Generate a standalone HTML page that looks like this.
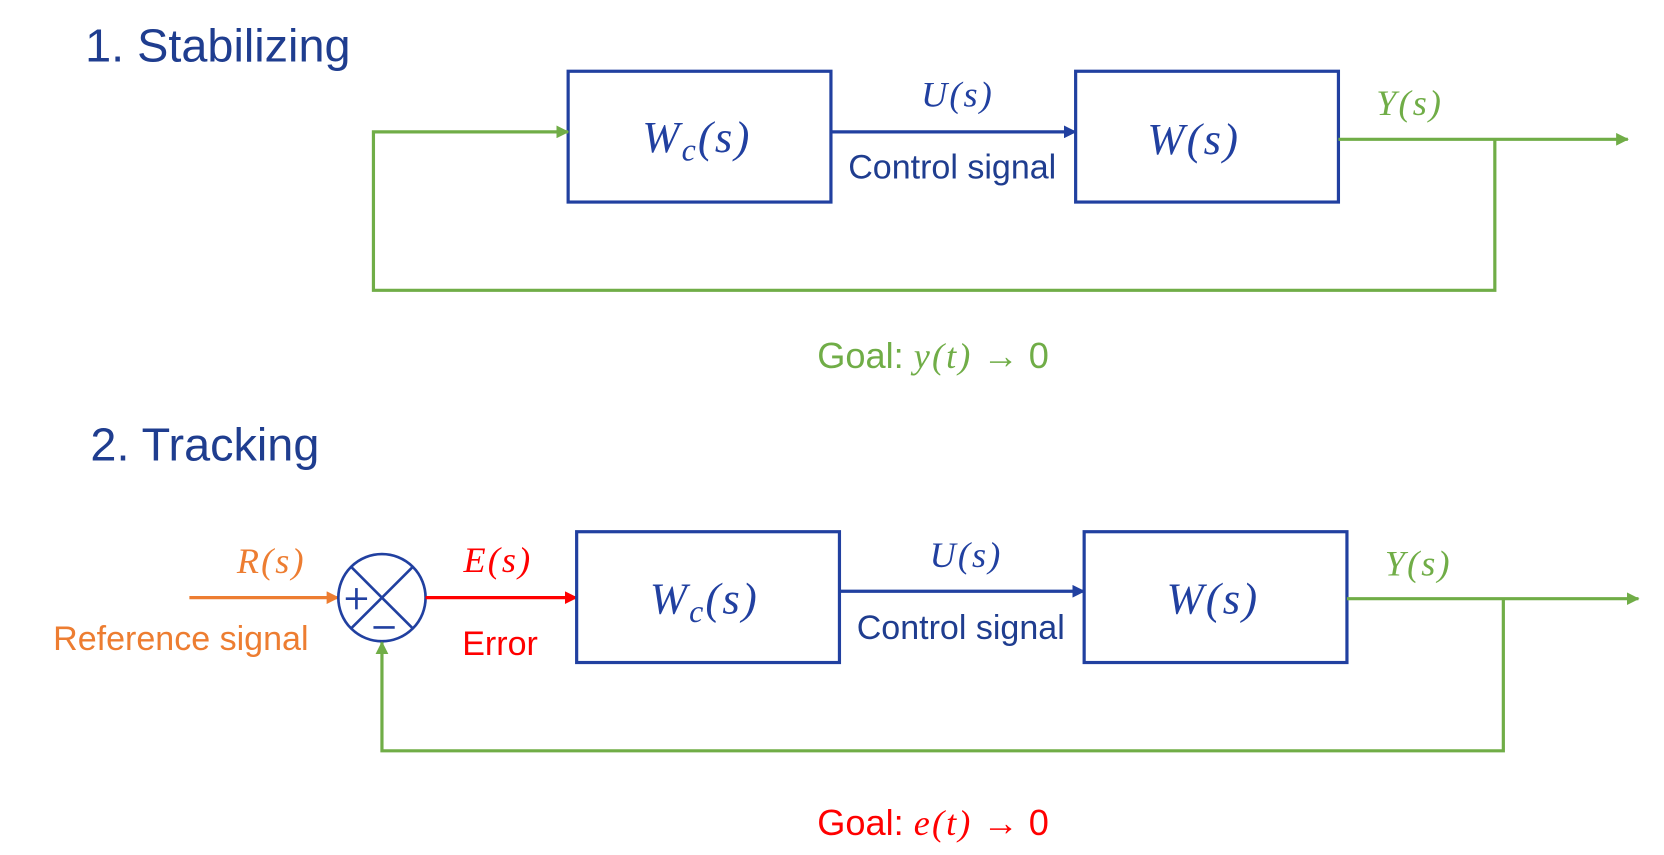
<!DOCTYPE html>
<html><head><meta charset="utf-8"><style>
html,body{margin:0;padding:0;background:#fff;}
svg{display:block;}
.t{font-family:"Liberation Sans",sans-serif;}
.m{font-family:"Liberation Serif",serif;font-style:italic;letter-spacing:2px;}
</style></head><body>
<svg width="1664" height="855" viewBox="0 0 1564 804" preserveAspectRatio="none">
<defs>
<marker id="ag" markerWidth="12" markerHeight="12" refX="11" refY="6" orient="auto" markerUnits="userSpaceOnUse"><path d="M0,0 L12,6 L0,12 z" fill="#70ad47"/></marker>
<marker id="ab" markerWidth="12" markerHeight="12" refX="11" refY="6" orient="auto" markerUnits="userSpaceOnUse"><path d="M0,0 L12,6 L0,12 z" fill="#2140a0"/></marker>
<marker id="ar" markerWidth="12" markerHeight="12" refX="11" refY="6" orient="auto" markerUnits="userSpaceOnUse"><path d="M0,0 L12,6 L0,12 z" fill="#ff0000"/></marker>
<marker id="ao" markerWidth="12" markerHeight="12" refX="11" refY="6" orient="auto" markerUnits="userSpaceOnUse"><path d="M0,0 L12,6 L0,12 z" fill="#ed7d31"/></marker>
</defs>
<g>
<text class="t" x="80" y="58" font-size="44" fill="#1f3d8f">1. Stabilizing</text>
<rect x="534" y="67" width="247" height="123" fill="none" stroke="#2140a0" stroke-width="3"/>
<rect x="1011" y="67" width="247" height="123" fill="none" stroke="#2140a0" stroke-width="3"/>
<text class="m" x="655" y="143" font-size="42" fill="#2140a0" text-anchor="middle">W<tspan font-size="30" dy="8">c</tspan><tspan dy="-8">(s)</tspan></text>
<text class="m" x="1122" y="145" font-size="42" fill="#2140a0" text-anchor="middle">W(s)</text>
<line x1="781" y1="124" x2="1011" y2="124" stroke="#2140a0" stroke-width="3" marker-end="url(#ab)"/>
<text class="m" x="900" y="100" font-size="34" fill="#2140a0" text-anchor="middle">U(s)</text>
<text class="t" x="895" y="168" font-size="32" fill="#1f3d8f" text-anchor="middle">Control signal</text>
<line x1="1258" y1="131" x2="1530" y2="131" stroke="#70ad47" stroke-width="3" marker-end="url(#ag)"/>
<text class="m" x="1325" y="108" font-size="34" fill="#70ad47" text-anchor="middle">Y(s)</text>
<polyline points="1405,131 1405,273 351,273 351,124 534,124" fill="none" stroke="#70ad47" stroke-width="3" marker-end="url(#ag)"/>
<text class="t" x="877" y="346" font-size="34" fill="#70ad47" text-anchor="middle">Goal: <tspan class="m">y(t)</tspan> → 0</text>
</g>
<g>
<text class="t" x="85" y="433" font-size="44" fill="#1f3d8f">2. Tracking</text>
<line x1="178" y1="562" x2="318" y2="562" stroke="#ed7d31" stroke-width="3" marker-end="url(#ao)"/>
<text class="m" x="255" y="539" font-size="34" fill="#ed7d31" text-anchor="middle">R(s)</text>
<text class="t" x="170" y="611" font-size="32" fill="#ed7d31" text-anchor="middle">Reference signal</text>
<g>
<circle cx="359" cy="562" r="41" fill="none" stroke="#2140a0" stroke-width="2.5"/>
<line x1="330" y1="533" x2="388" y2="591" stroke="#2140a0" stroke-width="2.5"/>
<line x1="388" y1="533" x2="330" y2="591" stroke="#2140a0" stroke-width="2.5"/>
<line x1="325" y1="563" x2="345" y2="563" stroke="#2140a0" stroke-width="2.5"/>
<line x1="335" y1="553" x2="335" y2="573" stroke="#2140a0" stroke-width="2.5"/>
<line x1="351" y1="590" x2="371" y2="590" stroke="#2140a0" stroke-width="2.5"/>
</g>
<line x1="400" y1="562" x2="542" y2="562" stroke="#ff0000" stroke-width="3" marker-end="url(#ar)"/>
<text class="m" x="468" y="538" font-size="34" fill="#ff0000" text-anchor="middle">E(s)</text>
<text class="t" x="470" y="616" font-size="32" fill="#ff0000" text-anchor="middle">Error</text>
<rect x="542" y="500" width="247" height="123" fill="none" stroke="#2140a0" stroke-width="3"/>
<rect x="1019" y="500" width="247" height="123" fill="none" stroke="#2140a0" stroke-width="3"/>
<text class="m" x="662" y="577" font-size="42" fill="#2140a0" text-anchor="middle">W<tspan font-size="30" dy="8">c</tspan><tspan dy="-8">(s)</tspan></text>
<text class="m" x="1140" y="577" font-size="42" fill="#2140a0" text-anchor="middle">W(s)</text>
<line x1="789" y1="556" x2="1019" y2="556" stroke="#2140a0" stroke-width="3" marker-end="url(#ab)"/>
<text class="m" x="908" y="533" font-size="34" fill="#2140a0" text-anchor="middle">U(s)</text>
<text class="t" x="903" y="601" font-size="32" fill="#1f3d8f" text-anchor="middle">Control signal</text>
<line x1="1266" y1="563" x2="1540" y2="563" stroke="#70ad47" stroke-width="3" marker-end="url(#ag)"/>
<text class="m" x="1333" y="541" font-size="34" fill="#70ad47" text-anchor="middle">Y(s)</text>
<polyline points="1413,563 1413,706 359,706 359,604" fill="none" stroke="#70ad47" stroke-width="3" marker-end="url(#ag)"/>
<text class="t" x="877" y="785" font-size="34" fill="#ff0000" text-anchor="middle">Goal: <tspan class="m">e(t)</tspan> → 0</text>
</g>
</svg>
</body></html>
